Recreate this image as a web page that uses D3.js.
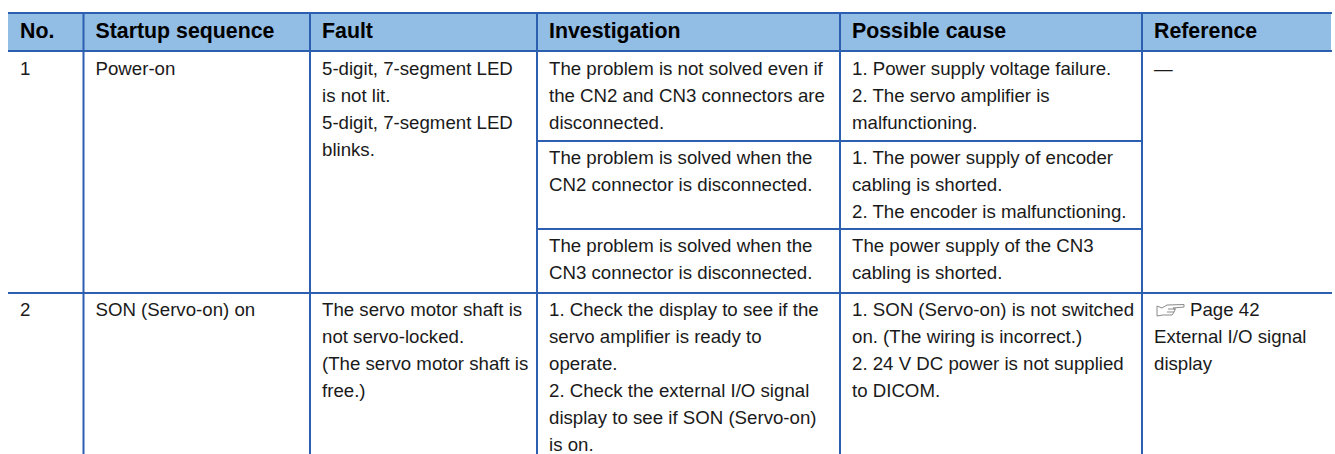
<!DOCTYPE html>
<html><head><meta charset="utf-8">
<script src="https://cdn.jsdelivr.net/npm/d3@7"></script>
<style>html,body{margin:0;padding:0;background:#fff}svg{display:block}text{font-family:"Liberation Sans",Arial,sans-serif;font-size:18.67px;fill:#1a1a1a}text.h{font-weight:700;font-size:21.33px;fill:#000}</style>
</head><body><svg id="c" width="1335" height="454"></svg>
<script>
const headers=["No.","Startup sequence","Fault","Investigation","Possible cause","Reference"];
const columnEdges=[8,83.5,310,537,840,1142,1332];
const rowEdges=[13,51,141,229,293,454];
const cells=[
[0,1,["1"]],
[1,1,["Power-on"]],
[2,1,["5-digit, 7-segment LED","is not lit.","5-digit, 7-segment LED","blinks."]],
[3,1,["The problem is not solved even if","the CN2 and CN3 connectors are","disconnected."]],
[4,1,["1. Power supply voltage failure.","2. The servo amplifier is","malfunctioning."]],
[5,1,["—"]],
[3,2,["The problem is solved when the","CN2 connector is disconnected."]],
[4,2,["1. The power supply of encoder","cabling is shorted.","2. The encoder is malfunctioning."]],
[3,3,["The problem is solved when the","CN3 connector is disconnected."]],
[4,3,["The power supply of the CN3","cabling is shorted."]],
[0,4,["2"]],
[1,4,["SON (Servo-on) on"]],
[2,4,["The servo motor shaft is","not servo-locked.","(The servo motor shaft is","free.)"]],
[3,4,["1. Check the display to see if the","servo amplifier is ready to","operate.","2. Check the external I/O signal","display to see if SON (Servo-on)","is on."]],
[4,4,["1. SON (Servo-on) is not switched","on. (The wiring is incorrect.)","2. 24 V DC power is not supplied","to DICOM."]],
[5,4,["Page 42","External I/O signal","display"]]
];
const svg=d3.select("#c");
const blue="#2d5fb0";
const lh=27;
const base=r=>rowEdges[r]+(r===1?24:23);
svg.append("rect").attr("x",columnEdges[0]).attr("y",rowEdges[0]).attr("width",columnEdges[6]-columnEdges[0]-1).attr("height",rowEdges[1]-rowEdges[0]).attr("fill","#92bde4");
svg.selectAll("text.h").data(headers).join("text").attr("class","h").attr("x",(d,i)=>columnEdges[i]+12).attr("y",38).text(d=>d);
const g=svg.selectAll("g.cell").data(cells).join("g").attr("class","cell");
g.selectAll("text").data(d=>d[2].map((t,i)=>({t,i,c:d[0],r:d[1]}))).join("text")
 .attr("x",d=>columnEdges[d.c]+12+(d.t==="Page 42"?36:0)).attr("y",d=>base(d.r)+d.i*lh).text(d=>d.t);
const line=(x1,y1,x2,y2)=>svg.append("line").attr("x1",x1).attr("y1",y1).attr("x2",x2).attr("y2",y2).attr("stroke",blue).attr("stroke-width",2);
[0,1,4].forEach(r=>line(columnEdges[0],rowEdges[r],columnEdges[6],rowEdges[r]));
columnEdges.slice(1,6).forEach(x=>line(x,rowEdges[0],x,454));
[2,3].forEach(r=>line(columnEdges[3],rowEdges[r],columnEdges[5],rowEdges[r]));
// pointing-hand reference icon
svg.append("g").attr("transform",`translate(${columnEdges[5]+14},${base(4)-13})`)
 .selectAll("path").data([
  "M1 3 L6 5 L11 2 L28 1.5 L28 4 L17 5 L19 6 L18.5 8 L17.5 10 L16 12 L7 12 L1 13 Z",
  "M12 6 L20 6 M11 9 L18 9"])
 .join("path").attr("d",d=>d).attr("fill","none").attr("stroke","#8a8a8a").attr("stroke-width",1);
</script></body></html>
